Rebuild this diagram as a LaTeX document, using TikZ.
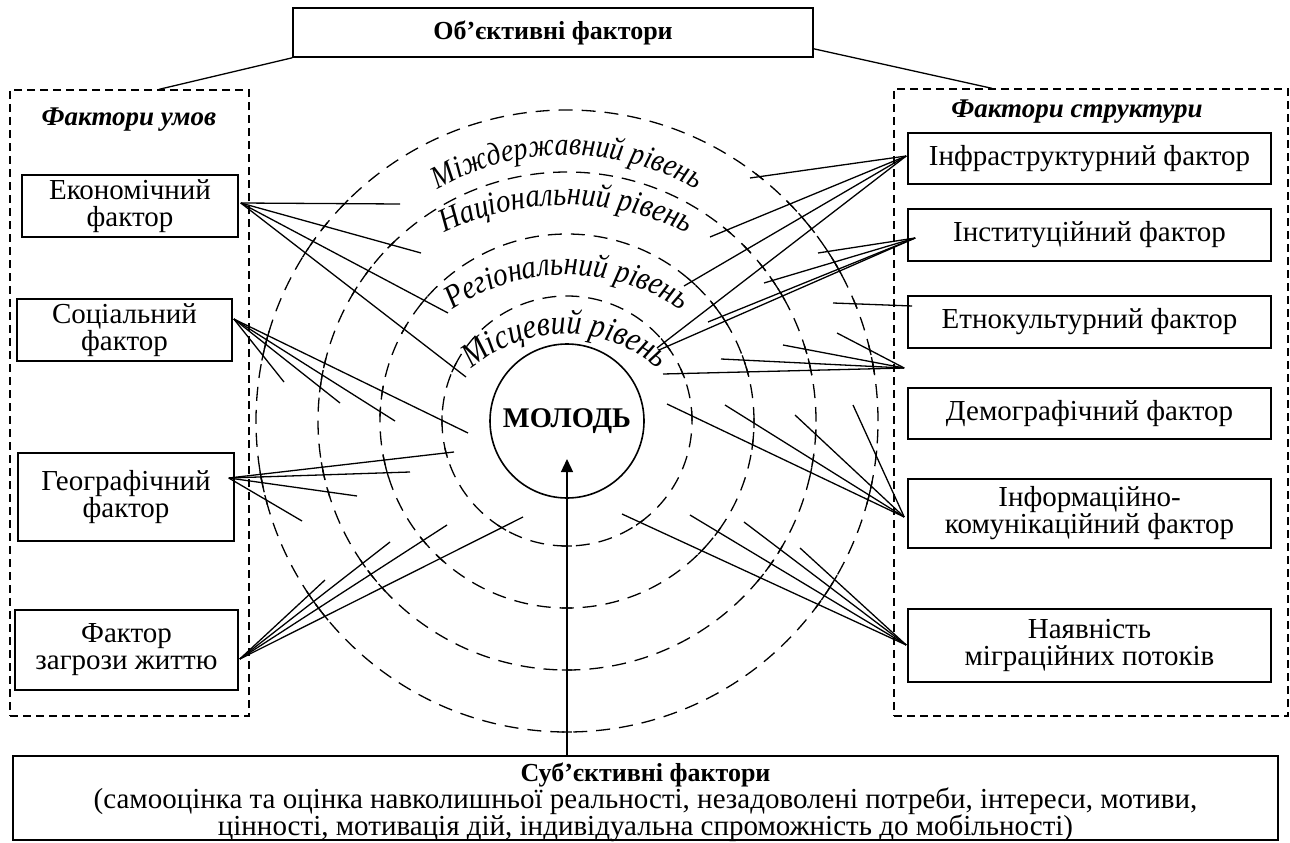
\documentclass[tikz,border=0pt]{standalone}
\usepackage{fontspec}
\setmainfont{Liberation Serif}
\newfontfamily\lvlfam[FakeStretch=0.87]{Liberation Serif}
\usetikzlibrary{calc,intersections,decorations.text,arrows.meta}

\newcommand\basefont{\fontsize{29}{27}\selectfont}
\newcommand\headfont{\fontsize{26}{27}\selectfont\bfseries}
\newcommand\grpfont{\fontsize{27}{27}\selectfont\bfseries\itshape}
\newcommand\lvlfont[1]{\lvlfam\itshape\fontsize{#1}{#1}\selectfont}

\newcommand\ringticks{%
  \foreach \k in {1,2,3,4}{%
    \path[name intersections={of=lnk and ring\k, name=X, total=\nX}] \pgfextra{\xdef\mytot{\nX}};%
    \ifnum\mytot>0
      \foreach \j in {1,...,\mytot}{%
        \draw[tick] ($(X-\j)!5pt!90:(O)$) -- ($(X-\j)!5pt!-90:(O)$);%
      }%
    \fi
  }%
}
\newcommand\linkto[2]{\draw[conn, name path=lnk] (#1) -- (#2);\ringticks}

\begin{document}
\begin{tikzpicture}[x=1pt,y=1pt,
  every node/.style={font=\basefont, inner sep=0pt},
  box/.style={draw, line width=1.6pt, align=center},
  grp/.style={draw, line width=1.3pt, dash pattern=on 8pt off 5pt},
  ring/.style={line width=1.3pt, dash pattern=on 14pt off 9pt},
  conn/.style={line width=1.3pt},
  tick/.style={line width=1.3pt},
  lvl/.style 2 args={decorate, decoration={text along path, text align=center, text={|\lvlfont{#1}|#2}}}
]
\useasboundingbox (0,0) rectangle (1290,-843);

% top box
\node[box, minimum width=520pt, minimum height=49pt, font=\headfont] (obj) at (553,-32.5) {Об’єктивні фактори};

% groups
\node[grp, minimum width=239pt, minimum height=626pt] (lgrp) at (129.5,-403) {};
\node[grp, minimum width=394pt, minimum height=627pt] (rgrp) at (1091,-402.5) {};
\node[font=\grpfont] (lgl) at (129,-120) {Фактори умов};
\node[font=\grpfont] (rgl) at (1077,-112) {Фактори структури};

\coordinate (lgTop) at ($(lgrp.north)+(29.5,0)$);
\coordinate (rgTop) at ($(rgrp.north)+(-99,0)$);
\coordinate (objR) at ($(obj.south east)+(0,9)$);
\draw[conn] (obj.south west) -- (lgTop);
\draw[conn] (objR) -- (rgTop);

% left boxes
\node[box, minimum width=216pt, minimum height=62pt] (eco) at (130,-206) {Економічний\\фактор};
\node[box, minimum width=215pt, minimum height=62pt] (soc) at (124.5,-330) {Соціальний\\фактор};
\node[box, minimum width=216pt, minimum height=88pt] (geo) at (126,-497) {Географічний\\фактор};
\node[box, minimum width=223pt, minimum height=80pt] (thr) at (126.5,-650) {Фактор\\загрози життю};

% right boxes
\node[box, minimum width=363pt, minimum height=51pt] (inf) at (1089.5,-158.5) {Інфраструктурний фактор};
\node[box, minimum width=363pt, minimum height=52pt] (ins) at (1089.5,-235) {Інституційний фактор};
\node[box, minimum width=363pt, minimum height=52pt] (eth) at (1089.5,-322) {Етнокультурний фактор};
\node[box, minimum width=363pt, minimum height=51pt] (dem) at (1089.5,-413.5) {Демографічний фактор};
\node[box, minimum width=363pt, minimum height=69pt] (ikt) at (1089.5,-513.5) {Інформаційно-\\комунікаційний фактор};
\node[box, minimum width=363pt, minimum height=73pt] (mig) at (1089.5,-645.5) {Наявність\\міграційних потоків};

% subjective
\node[box, minimum width=1265pt, minimum height=84pt] (subj) at (645.5,-798) {};
\node[align=center] (subjT) at (645.5,-802)
  {{\headfont Суб’єктивні фактори}\\(самооцінка та оцінка навколишньої реальності, незадоволені потреби, інтереси, мотиви,\\цінності, мотивація дій, індивідуальна спроможність до мобільності)};

% rings
\coordinate (O) at (567,-421);
\draw[ring, name path=ring1] (O) circle[radius=125];
\draw[ring, name path=ring2] (O) circle[radius=187];
\draw[ring, name path=ring3] (O) circle[radius=249];
\draw[ring, name path=ring4] (O) circle[radius=311];

\node[draw, circle, line width=1.6pt, minimum size=154pt, font=\fontsize{28.5}{28}\selectfont\bfseries] (mol) at (O) {МОЛОДЬ};

% level labels
\coordinate (c1) at (567,-414);
\coordinate (c2) at (566,-479);
\coordinate (c3) at (567,-479);
\coordinate (c4) at (565,-476);
\path[lvl={32}{Міждержавний рівень}] ($(c1)+(140:259)$) arc[start angle=140, end angle=40, radius=259];
\path[lvl={33}{Національний рівень}] ($(c2)+(135:274)$) arc[start angle=135, end angle=45, radius=274];
\path[lvl={33}{Регіональний рівень}] ($(c3)+(140:204)$) arc[start angle=140, end angle=40, radius=204];
\path[lvl={34.5}{Місцевий рівень}] ($(c4)+(160:142)$) arc[start angle=160, end angle=20, radius=142];

% anchors
\coordinate (eA) at ($(eco.east)+(2,3)$);
\coordinate (sA) at ($(soc.east)+(1,11)$);
\coordinate (gA) at ($(geo.east)+(-6,19)$);
\coordinate (tA) at ($(thr.east)+(1,-9)$);
\coordinate (iA) at ($(inf.west)+(-1,2.5)$);
\coordinate (nA) at ($(ins.west)+(8,-3)$);
\coordinate (etA) at ($(eth.west)+(5,16)$);
\coordinate (cA) at ($($(eth.south west)!0.5!(dem.north west)$)+(-3,0)$);
\coordinate (kA) at ($(ikt.west)+(-3,-3.5)$);
\coordinate (mA) at ($(mig.west)+(-1,0.5)$);

\foreach \p [count=\i] in {{400,-204},{421,-253},{448,-313},{466,-377}}{\coordinate (ec\i) at (\p); \linkto{eA}{ec\i}}
\foreach \p [count=\i] in {{284,-382},{340,-403},{395,-421},{468,-433}}{\coordinate (so\i) at (\p); \linkto{sA}{so\i}}
\foreach \p [count=\i] in {{454,-452},{410,-472},{357,-496},{302,-521}}{\coordinate (ge\i) at (\p); \linkto{gA}{ge\i}}
\foreach \p [count=\i] in {{325,-580},{390,-542},{447,-525},{523,-517}}{\coordinate (th\i) at (\p); \linkto{tA}{th\i}}
\foreach \p [count=\i] in {{750,-178},{710,-237},{684,-286},{657,-348}}{\coordinate (in\i) at (\p); \linkto{iA}{in\i}}
\foreach \p [count=\i] in {{818,-253},{764,-283},{708,-322},{659,-350}}{\coordinate (is\i) at (\p); \linkto{nA}{is\i}}
\coordinate (et1) at (833,-303); \linkto{etA}{et1}
\foreach \p [count=\i] in {{837,-333},{783,-345},{721,-359},{663,-374}}{\coordinate (cv\i) at (\p); \linkto{cA}{cv\i}}
\foreach \p [count=\i] in {{667,-404},{725,-405},{795,-415},{853,-405}}{\coordinate (ik\i) at (\p); \linkto{kA}{ik\i}}
\foreach \p [count=\i] in {{622,-514},{690,-515},{744,-522},{800,-548}}{\coordinate (mg\i) at (\p); \linkto{mA}{mg\i}}

% arrow
\draw[conn, -{Triangle[length=13pt,width=12pt]}, name path=lnk] (mol |- subj.north) -- ($(mol.center)+(0,-38)$);
\ringticks
\end{tikzpicture}
\end{document}
